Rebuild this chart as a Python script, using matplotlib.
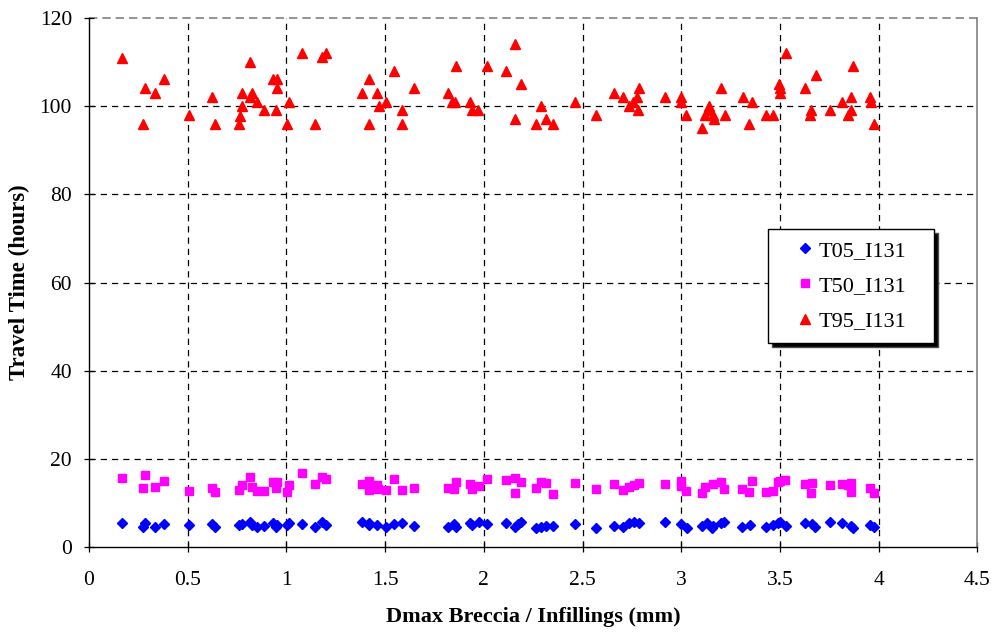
import matplotlib
matplotlib.use('Agg')
import matplotlib.pyplot as plt

# T05_I131 (blue diamonds)
x_t05 = [0.169, 0.284, 0.272, 0.334, 0.381, 0.508, 0.621, 0.638, 0.761, 0.773,
         0.817, 0.825, 0.852, 0.887, 0.930, 0.950, 0.947, 1.004, 1.014, 1.077,
         1.146, 1.180, 1.200, 1.381, 1.416, 1.418, 1.460, 1.502, 1.544, 1.583,
         1.647, 1.819, 1.848, 1.858, 1.932, 1.939, 1.973, 2.017, 2.110, 2.159,
         2.189, 2.174, 2.262, 2.290, 2.317, 2.351, 2.461, 2.567, 2.660, 2.706,
         2.736, 2.759, 2.786, 2.915, 2.997, 3.029, 3.107, 3.128, 3.153, 3.158,
         3.203, 3.215, 3.309, 3.350, 3.428, 3.465, 3.490, 3.499, 3.532, 3.625,
         3.664, 3.676, 3.755, 3.813, 3.858, 3.870, 3.954, 3.975]
t05 = [5.4, 5.4, 4.5, 4.7, 5.3, 5.1, 5.2, 4.7, 5.1, 5.3,
       5.7, 5.1, 4.7, 4.8, 5.6, 5.1, 4.7, 5.1, 5.6, 5.3,
       4.7, 5.7, 5.1, 5.7, 5.6, 5.1, 5.1, 4.7, 5.2, 5.6,
       4.9, 4.7, 5.2, 4.7, 5.4, 5.1, 5.7, 5.3, 5.4, 4.7,
       5.7, 5.2, 4.4, 4.7, 4.9, 4.9, 5.2, 4.3, 4.9, 4.7,
       5.4, 5.7, 5.4, 5.7, 5.2, 4.4, 4.9, 5.4, 4.4, 4.9,
       5.6, 5.7, 4.7, 5.1, 4.5, 5.1, 5.4, 5.7, 4.9, 5.6,
       5.2, 4.7, 5.7, 5.4, 4.9, 4.4, 5.1, 4.7]

# T50_I131 (magenta squares)
x_t50 = [0.169, 0.282, 0.272, 0.334, 0.378, 0.508, 0.621, 0.638, 0.761, 0.773,
         0.817, 0.824, 0.849, 0.887, 0.930, 0.950, 0.947, 1.014, 1.004, 1.077,
         1.146, 1.180, 1.200, 1.381, 1.416, 1.418, 1.457, 1.465, 1.502, 1.544,
         1.583, 1.647, 1.819, 1.858, 1.848, 1.932, 1.942, 1.973, 2.017, 2.110,
         2.159, 2.189, 2.159, 2.262, 2.290, 2.317, 2.351, 2.461, 2.567, 2.660,
         2.706, 2.736, 2.759, 2.786, 2.915, 2.997, 2.997, 3.026, 3.107, 3.119,
         3.158, 3.203, 3.215, 3.309, 3.343, 3.357, 3.428, 3.465, 3.490, 3.499,
         3.524, 3.625, 3.664, 3.656, 3.755, 3.813, 3.858, 3.861, 3.845, 3.954,
         3.975]
t50 = [15.8, 16.4, 13.5, 13.7, 15.1, 12.8, 13.5, 12.5, 13.0, 14.1,
       15.9, 13.7, 12.8, 12.8, 14.9, 14.9, 13.5, 14.1, 12.5, 16.8,
       14.3, 16.0, 15.5, 14.3, 15.1, 13.0, 14.1, 13.1, 13.0, 15.5,
       13.0, 13.5, 13.4, 14.7, 13.1, 14.3, 13.2, 14.0, 15.5, 15.3,
       15.8, 14.7, 12.2, 13.5, 14.7, 14.5, 12.0, 14.5, 13.2, 14.3,
       13.0, 13.7, 14.1, 14.5, 14.3, 15.0, 14.0, 12.8, 12.2, 13.7,
       14.3, 14.9, 13.2, 13.2, 12.5, 15.0, 12.5, 12.8, 14.9, 15.0,
       15.3, 14.3, 14.5, 12.2, 14.1, 14.3, 14.5, 12.5, 14.1, 13.5,
       12.2]

# T95_I131 (red triangles)
x_t95 = [0.169, 0.284, 0.272, 0.334, 0.381, 0.508, 0.621, 0.638, 0.761, 0.766,
         0.775, 0.773, 0.817, 0.825, 0.818, 0.852, 0.887, 0.930, 0.950, 0.950,
         0.947, 1.014, 1.004, 1.077, 1.146, 1.180, 1.200, 1.381, 1.416, 1.418,
         1.457, 1.467, 1.502, 1.544, 1.583, 1.583, 1.647, 1.819, 1.858, 1.838,
         1.853, 1.932, 1.939, 1.971, 2.016, 2.110, 2.159, 2.189, 2.157, 2.290,
         2.263, 2.314, 2.351, 2.461, 2.567, 2.660, 2.706, 2.757, 2.736, 2.776,
         2.786, 2.783, 2.915, 2.997, 2.997, 3.026, 3.107, 3.119, 3.141, 3.144,
         3.158, 3.165, 3.203, 3.220, 3.343, 3.313, 3.357, 3.428, 3.465, 3.495,
         3.499, 3.499, 3.532, 3.625, 3.681, 3.659, 3.654, 3.755, 3.813, 3.858,
         3.861, 3.845, 3.870, 3.958, 3.962, 3.975]
t95 = [110.8, 104, 96, 103, 106, 98, 102, 96, 96, 97.8,
       100, 103, 110, 103, 102, 101, 99, 106, 106, 104,
       99, 101, 96, 112, 96, 111, 112, 103, 106, 96,
       103, 100, 101, 108, 99, 96, 104, 103, 109, 101,
       101, 101, 99, 99, 109, 108, 114, 105, 97, 100,
       96, 97, 96, 101, 98, 103, 102, 101, 100, 102,
       104, 99, 102, 102, 101, 98, 95, 98, 100, 99,
       98, 97, 104, 98, 96, 102, 101, 98, 98, 105,
       104, 103, 112, 104, 107, 99, 98, 99, 101, 102,
       99, 98, 109, 102, 101, 96]

x_ticks = [0, 0.5, 1, 1.5, 2, 2.5, 3, 3.5, 4, 4.5]
x_tick_labels = ['0', '0.5', '1', '1.5', '2', '2.5', '3', '3.5', '4', '4.5']
y_ticks = [0, 20, 40, 60, 80, 100, 120]

plt.rcParams['font.family'] = ['Liberation Serif', 'DejaVu Serif']

fig = plt.figure(figsize=(9.95, 6.32), dpi=100)
ax = fig.add_axes([0.0894, 0.134, 0.8930, 0.838])

ax.plot(x_t05, t05, linestyle='none', marker='D', markersize=4.6,
        color='#0000FF', label='T05_I131', zorder=3)
ax.plot(x_t50, t50, linestyle='none', marker='s', markersize=6.3,
        color='#FF00FF', label='T50_I131', zorder=3)
ax.plot(x_t95, t95, linestyle='none', marker='^', markersize=6.5,
        color='#FF0000', label='T95_I131', zorder=3)

ax.set_xlim(0, 4.5)
ax.set_ylim(0, 120)
ax.set_xticks(x_ticks)
ax.set_xticklabels(x_tick_labels)
ax.set_yticks(y_ticks)

# dashed grid, skipping the frame positions
grid_style = {'color': 'black', 'linewidth': 0.9, 'dashes': (5, 4), 'zorder': 1}
for xv in x_ticks[1:-1]:
    ax.axvline(xv, **grid_style)
for yv in y_ticks[1:-1]:
    ax.axhline(yv, **grid_style)
ax.axhline(120, color='#808080', linewidth=1.2, dashes=(5, 3), zorder=1, clip_on=False)

ax.spines['top'].set_visible(False)
ax.spines['right'].set_color('#808080')
ax.spines['right'].set_linewidth(1.2)
ax.spines['left'].set_linewidth(1.0)
ax.spines['bottom'].set_linewidth(1.0)

ax.tick_params(axis='both', direction='inout', length=6.5, width=0.9,
               labelsize=15.5, colors='black')
ax.tick_params(axis='x', pad=14)
ax.tick_params(axis='y', pad=9)
ax.tick_params(top=False, right=False)

ax.set_xlabel('Dmax Breccia / Infillings (mm)', fontsize=16, fontweight='bold',
              labelpad=12)
ax.set_ylabel('Travel Time (hours)', fontsize=16.5, fontweight='bold', labelpad=7)

# legend box spans the same axes-fraction rectangle as the original
leg = ax.legend(loc='upper left', bbox_to_anchor=(0.764, 0.393, 0.187, 0.208),
                mode='expand', fontsize=16,
                frameon=True, fancybox=False, framealpha=1, edgecolor='black',
                borderpad=0.5, labelspacing=0.67, handlelength=2.33,
                handletextpad=-0.54, borderaxespad=0,
                shadow={'ox': 3, 'oy': -3, 'facecolor': 'black', 'alpha': 1})
leg.get_frame().set_linewidth(1.0)

fig.savefig('out.png', dpi=100, facecolor='white')
